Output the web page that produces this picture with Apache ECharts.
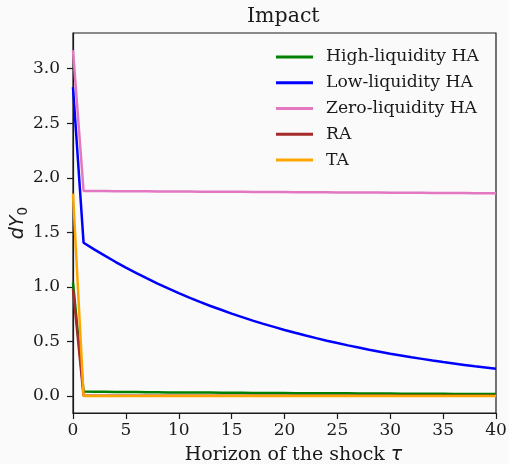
<!DOCTYPE html>
<html>
<head>
<meta charset="utf-8">
<script src="https://cdn.jsdelivr.net/npm/echarts@6/dist/echarts.min.js"></script>
<style>
  html, body { margin: 0; padding: 0; background: #fafafa; }
  #chart { width: 509px; height: 464px; }
</style>
</head>
<body>
<div id="chart"></div>
<script>
// Horizon of the shock (quarters after impact)
const horizons = [0, 1, 2, 3, 4, 5, 6, 7, 8, 9, 10, 11, 12, 13, 14, 15, 16, 17, 18, 19, 20,
  21, 22, 23, 24, 25, 26, 27, 28, 29, 30, 31, 32, 33, 34, 35, 36, 37, 38, 39, 40];

// Impact response dY0 for each model
const highLiquidityHA = [1.04, 0.040, 0.039, 0.038, 0.037, 0.036, 0.036, 0.035, 0.034, 0.033, 0.033,
  0.032, 0.031, 0.031, 0.030, 0.029, 0.029, 0.028, 0.028, 0.027, 0.027,
  0.026, 0.026, 0.025, 0.025, 0.024, 0.024, 0.023, 0.023, 0.022, 0.022,
  0.021, 0.021, 0.021, 0.020, 0.020, 0.019, 0.019, 0.019, 0.018, 0.018];
const lowLiquidityHA = [2.83, 1.405, 1.344, 1.286, 1.230, 1.177, 1.126, 1.077, 1.030, 0.986, 0.943,
  0.902, 0.863, 0.825, 0.790, 0.755, 0.723, 0.691, 0.661, 0.633, 0.605,
  0.579, 0.554, 0.530, 0.507, 0.485, 0.464, 0.444, 0.424, 0.406, 0.388,
  0.372, 0.355, 0.340, 0.325, 0.311, 0.298, 0.285, 0.272, 0.261, 0.249];
const zeroLiquidityHA = [3.17, 1.879, 1.878, 1.878, 1.877, 1.877, 1.876, 1.876, 1.875, 1.875, 1.874,
  1.874, 1.873, 1.873, 1.872, 1.871, 1.871, 1.870, 1.870, 1.869, 1.869,
  1.868, 1.868, 1.867, 1.867, 1.866, 1.866, 1.865, 1.865, 1.864, 1.863,
  1.863, 1.862, 1.862, 1.861, 1.861, 1.860, 1.860, 1.859, 1.859, 1.858];
const representativeAgent = [0.98, 0.001, 0.001, 0.001, 0.001, 0.001, 0.001, 0.001, 0.001, 0.001, 0.001,
  0.001, 0.001, 0.001, 0.001, 0.001, 0.001, 0.001, 0.001, 0.001, 0.001,
  0.001, 0.001, 0.001, 0.001, 0.001, 0.001, 0.001, 0.001, 0.001, 0.001,
  0.001, 0.001, 0.001, 0.001, 0.001, 0.001, 0.001, 0.001, 0.001, 0.001];
const twoAgent = [1.855, 0.000, 0.000, 0.000, 0.000, 0.000, 0.000, 0.000, 0.000, 0.000, 0.000,
  0.000, 0.000, 0.000, 0.000, 0.000, 0.000, 0.000, 0.000, 0.000, 0.000,
  0.000, 0.000, 0.000, 0.000, 0.000, 0.000, 0.000, 0.000, 0.000, 0.000,
  0.000, 0.000, 0.000, 0.000, 0.000, 0.000, 0.000, 0.000, 0.000, 0.000];

const seriesNames = ['High-liquidity HA', 'Low-liquidity HA', 'Zero-liquidity HA', 'RA', 'TA'];
const seriesColors = ['#008000', '#0000ff', '#e377c2', '#a52a2a', '#ffa500'];
const seriesValues = [highLiquidityHA, lowLiquidityHA, zeroLiquidityHA, representativeAgent, twoAgent];

const yTicks = [0, 0.5, 1.0, 1.5, 2.0, 2.5, 3.0];
const xTicks = [0, 5, 10, 15, 20, 25, 30, 35, 40];

const serif = '"DejaVu Serif", serif';
const sans = '"DejaVu Sans", sans-serif';
const ink = '#1a1a1a';

const chart = echarts.init(document.getElementById('chart'), null, { renderer: 'canvas' });

chart.setOption({
  backgroundColor: '#fafafa',
  animation: false,
  title: {
    text: 'Impact',
    left: 247,
    top: 6,
    padding: 0,
    textStyle: { fontFamily: serif, fontSize: 20.5, fontWeight: 'normal', color: ink }
  },
  grid: {
    left: 73, right: 13, top: 33, bottom: 51,
    outerBoundsMode: 'none',
    containLabel: false,
    show: true, borderColor: ink, borderWidth: 1.2, backgroundColor: '#fafafa'
  },
  legend: {
    orient: 'vertical',
    left: 276,
    top: 44,
    padding: 0,
    itemWidth: 37,
    itemHeight: 3,
    itemGap: 0,
    icon: 'rect',
    data: seriesNames,
    textStyle: {
      fontFamily: serif, fontSize: 17.2, color: ink,
      lineHeight: 25.8, padding: [0, 0, 0, 8]
    }
  },
  xAxis: {
    type: 'value',
    min: 0, max: 40, interval: 5,
    splitLine: { show: false },
    axisLine: { onZero: false, lineStyle: { color: ink, width: 1.2 } },
    axisTick: { length: 6, lineStyle: { color: ink, width: 1.2 } },
    axisLabel: {
      margin: 9, fontFamily: serif, fontSize: 17, color: ink,
      customValues: xTicks, formatter: v => String(v)
    },
    name: 'Horizon of the shock {m|τ}',
    nameLocation: 'middle',
    nameGap: 33,
    nameMoveOverlap: false,
    nameTextStyle: {
      fontFamily: serif, fontSize: 19, color: ink,
      padding: [0, 0, 0, 18],
      rich: { m: { fontFamily: sans, fontStyle: 'italic', fontSize: 19, color: ink } }
    }
  },
  yAxis: {
    type: 'value',
    min: -0.156, max: 3.327,
    splitLine: { show: false },
    axisLine: { onZero: false, lineStyle: { color: ink, width: 1.2 } },
    axisTick: { length: 6, customValues: yTicks, lineStyle: { color: ink, width: 1.2 } },
    axisLabel: {
      margin: 13, fontFamily: serif, fontSize: 17, color: ink,
      customValues: yTicks, formatter: v => v.toFixed(1)
    },
    name: '{m|dY}{s|0}',
    nameLocation: 'middle',
    nameRotate: 90,
    nameGap: 43,
    nameMoveOverlap: false,
    nameTextStyle: {
      rich: {
        m: { fontFamily: sans, fontStyle: 'italic', fontSize: 19, color: ink, lineHeight: 24, verticalAlign: 'middle' },
        s: { fontFamily: sans, fontSize: 13.5, color: ink, lineHeight: 24, verticalAlign: 'bottom', padding: [9, 0, 0, 0] }
      }
    }
  },
  series: seriesNames.map((name, i) => ({
    name,
    type: 'line',
    symbol: 'none',
    color: seriesColors[i],
    lineStyle: { width: 2.5, color: seriesColors[i] },
    data: horizons.map((t, k) => [t, seriesValues[i][k]])
  }))
});
</script>
</body>
</html>
